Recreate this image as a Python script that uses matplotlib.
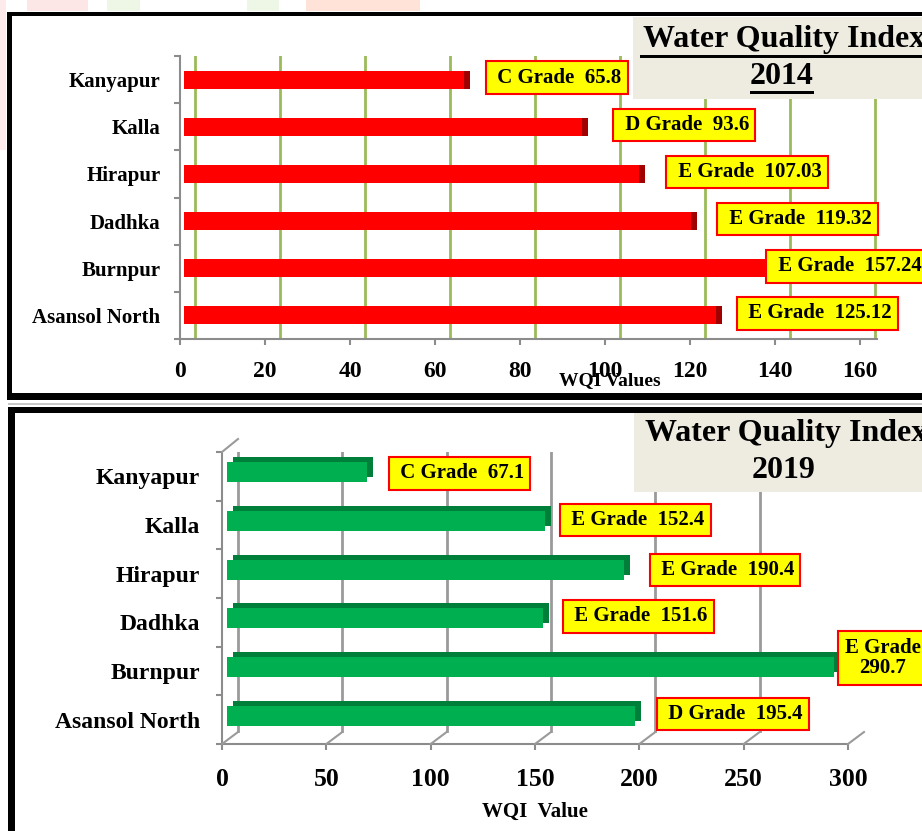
import numpy as np
import matplotlib.pyplot as plt
import matplotlib.transforms as mtransforms
from matplotlib.patches import Rectangle
from matplotlib.lines import Line2D

plt.rcParams['font.family'] = ['Liberation Serif', 'DejaVu Serif']
plt.rcParams['font.weight'] = 'bold'

# data
sites = ['Kanyapur', 'Kalla', 'Hirapur', 'Dadhka', 'Burnpur', 'Asansol North']
wqi_2014 = [65.8, 93.6, 107.03, 119.32, 157.24, 125.12]
grade_2014 = ['C', 'D', 'E', 'E', 'E', 'E']
wqi_2019 = [67.1, 152.4, 190.4, 151.6, 290.7, 195.4]
grade_2019 = ['C', 'E', 'E', 'E', 'E', 'D']
ticks_2014 = [0, 20, 40, 60, 80, 100, 120, 140, 160]
ticks_2019 = [0, 50, 100, 150, 200, 250, 300]

# label box placement (left edge in data units, nudge in px)
lab_x_2014 = [72, 102, 114.5, 126.5, 138, 131]
lab_x_2019 = [80, 162, 205, 163.5, 295.5, 208.5]
lab_dy_2019 = [-3, -5, -3.5, -6, -13, -5.5]

W, H = 922, 831
fig = plt.figure(figsize=(W / 100, H / 100), dpi=100)
fig.patch.set_facecolor('white')


def fig_rect(l, t, r, b):
    return [l / W, 1 - b / H, (r - l) / W, (b - t) / H]


def off(dx, dy):
    # pixel offset, dy positive = downwards
    return mtransforms.ScaledTranslation(dx / 100, -dy / 100, fig.dpi_scale_trans)


def add_box(l, t, r, b, color, z=5):
    x, y, w, h = fig_rect(l, t, r, b)
    fig.add_artist(Rectangle((x, y), w, h, transform=fig.transFigure,
                             facecolor=color, edgecolor='none', zorder=z))


def style_axis(ax, ncat, tick_fs, cat_fs, cat_pad, tick_pad):
    for s in ['top', 'right']:
        ax.spines[s].set_visible(False)
    for s in ['left', 'bottom']:
        ax.spines[s].set_color('#8c8c8c')
        ax.spines[s].set_linewidth(1.5)
    ax.set_ylim(ncat - 0.5, -0.5)
    ax.set_yticks(range(ncat))
    ax.set_yticklabels(sites, fontsize=cat_fs, fontweight='bold')
    ax.set_yticks(np.arange(-0.5, ncat, 1.0), minor=True)
    ax.tick_params(axis='y', which='major', length=0, pad=cat_pad)
    ax.tick_params(axis='y', which='minor', length=4.5, width=1.5, color='#8c8c8c')
    ax.tick_params(axis='x', length=4.5, width=1.5, color='#8c8c8c',
                   labelsize=tick_fs, pad=tick_pad)
    for lb in ax.get_xticklabels():
        lb.set_fontweight('bold')
    ax.set_facecolor('none')


# ---------------- 2014 panel ----------------
ax1 = fig.add_axes(fig_rect(180, 56, 877, 339))
y = np.arange(len(sites))
ax1.set_xlim(0, 697 / 4.25)
ax1.set_xticks(ticks_2014)
style_axis(ax1, len(sites), 17, 15, 14, 11)

for t in ticks_2014:
    gl = ax1.axvline(t, color='#9BBB59', lw=2, zorder=0)
    gl.set_transform(gl.get_transform() + off(15, 0))

back = ax1.barh(y, wqi_2014, height=0.38, color='#A00000', zorder=2)
front = ax1.barh(y, wqi_2014, height=0.38, color='#FF0000', zorder=3)
for b in back:
    b.set_transform(ax1.transData + off(10, 0))
for b in front:
    b.set_transform(ax1.transData + off(4, 0))

for i in range(len(sites)):
    txt = f' {grade_2014[i]} Grade  {wqi_2014[i]}'
    ax1.text(lab_x_2014[i], y[i], txt, ha='left', va='center', fontsize=15,
             fontweight='bold', zorder=6, transform=ax1.transData + off(6, -2),
             bbox=dict(boxstyle='square,pad=0.3', fc='#FFFF00', ec='#FF0000', lw=1.5))

ax1.set_xlabel('WQI Values', fontsize=14, fontweight='bold')
ax1.xaxis.set_label_coords((610 - 180) / 697, -(372 - 339) / 283)

# ---------------- 2019 panel ----------------
ax2 = fig.add_axes(fig_rect(222, 452, 848, 744))
ax2.set_xlim(0, 300)
ax2.set_xticks(ticks_2019)
style_axis(ax2, len(sites), 18.5, 17, 16, 13)

for t in ticks_2019:
    gl = ax2.axvline(t, color='#9a9a9a', lw=2, zorder=0)
    gl.set_transform(gl.get_transform() + off(16, -13))

back2 = ax2.barh(y, wqi_2019, height=0.41, color='#007F3A', zorder=2)
front2 = ax2.barh(y, wqi_2019, height=0.41, color='#00B050', zorder=3)
for b in back2:
    b.set_transform(ax2.transData + off(11, -9))
for b in front2:
    b.set_transform(ax2.transData + off(5, -4))

for i in range(len(sites)):
    if sites[i] == 'Burnpur':
        txt = f'{grade_2019[i]} Grade\n{wqi_2019[i]}'
    else:
        txt = f' {grade_2019[i]} Grade  {wqi_2019[i]}'
    ax2.text(lab_x_2019[i], y[i], txt, ha='left', va='center', fontsize=15,
             fontweight='bold', zorder=6, multialignment='center', linespacing=1.05,
             transform=ax2.transData + off(6, lab_dy_2019[i]),
             bbox=dict(boxstyle='square,pad=0.3', fc='#FFFF00', ec='#FF0000', lw=1.5))

ax2.set_xlabel('WQI  Value', fontsize=15, fontweight='bold')
ax2.xaxis.set_label_coords((535 - 222) / 626, -(802 - 744) / 292)

# 3D wall edges for the 2019 chart
fig.canvas.draw()
ident = mtransforms.IdentityTransform()
for t in ticks_2019:
    px, py = ax2.transData.transform((t, len(sites) - 0.5))
    fig.add_artist(Line2D([px, px + 16], [py, py + 12], color='#9a9a9a', lw=1.5,
                          transform=ident, zorder=1))
px, py = ax2.transData.transform((0, -0.5))
fig.add_artist(Line2D([px, px + 16], [py, py + 13], color='#9a9a9a', lw=1.5,
                      transform=ident, zorder=1))

# ---------------- title boxes ----------------
add_box(633, 17, 922, 99, '#EEECE1')
fig.text(784 / W, 1 - 40 / H, 'Water Quality Index', ha='center', va='center',
         fontsize=23, fontweight='bold', zorder=6)
fig.text(782 / W, 1 - 77 / H, '2014', ha='center', va='center',
         fontsize=23, fontweight='bold', zorder=6)
add_box(640, 55, 922, 58, 'black', z=7)
add_box(750, 91, 814, 94, 'black', z=7)

add_box(634, 413, 922, 492, '#EEECE1')
fig.text(786 / W, 1 - 434 / H, 'Water Quality Index', ha='center', va='center',
         fontsize=23, fontweight='bold', zorder=6)
fig.text(784 / W, 1 - 471 / H, '2019', ha='center', va='center',
         fontsize=23, fontweight='bold', zorder=6)

# ---------------- panel borders ----------------
add_box(7, 12, 922, 16, 'black', z=8)
add_box(7, 12, 12, 400, 'black', z=8)
add_box(7, 393, 922, 400, 'black', z=8)
add_box(8, 403, 922, 405, '#c8c8c8', z=8)
add_box(8, 407, 922, 413, 'black', z=8)
add_box(8, 407, 15, 831, 'black', z=8)

# faint page watermark above the first panel
add_box(0, 0, 6, 150, '#FDEAEA', z=1)
add_box(27, 0, 88, 11, '#FDE6E6', z=1)
add_box(107, 0, 140, 11, '#EEF6E6', z=1)
add_box(247, 0, 279, 11, '#EEF6E6', z=1)
add_box(306, 0, 420, 11, '#FFE2D8', z=1)

fig.savefig('out.png', dpi=100)
